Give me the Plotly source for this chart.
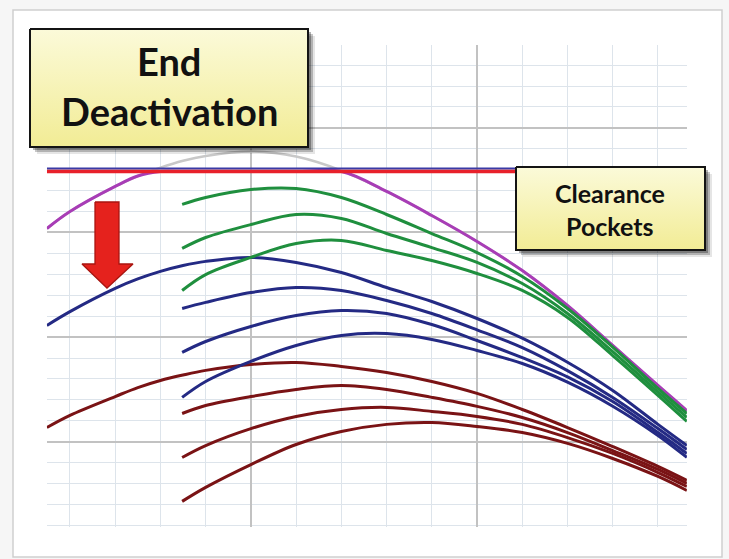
import numpy as np
import plotly.graph_objects as go

# ---------------- data ----------------
X_FULL = [0.49, 1, 2, 2.5, 3, 3.5, 4, 5, 6, 7, 8, 9, 10, 11, 12, 13, 14, 14.64]
X_PART = [3.48, 4, 5, 6, 7, 8, 9, 10, 11, 12, 13, 14, 14.64]

UPPER_ENVELOPE = [14.19, 15.00, 16.20, 16.70, 17.10, 17.43, 17.66, 17.87, 17.63,
                  16.96, 15.96, 14.81, 13.57, 12.18, 10.51, 8.60, 6.69, 5.49]

GREEN_1 = [15.34, 15.67, 16.05, 16.10, 15.67, 14.86, 13.95, 13.04, 11.90, 10.37, 8.52, 6.55, 5.35]
GREEN_2 = [13.24, 13.76, 14.38, 14.86, 14.67, 13.95, 13.28, 12.57, 11.56, 10.13, 8.31, 6.38, 5.16]
GREEN_3 = [11.23, 11.99, 12.81, 13.47, 13.62, 13.14, 12.66, 12.04, 11.23, 9.94, 8.12, 6.22, 4.97]

NAVY_1 = [9.56, 10.22, 11.33, 11.78, 12.14, 12.42, 12.62, 12.81, 12.57,
          12.09, 11.37, 10.70, 9.89, 8.95, 7.80, 6.45, 4.83, 3.82]
NAVY_2 = [10.37, 10.66, 11.13, 11.37, 11.23, 10.75, 10.13, 9.35, 8.50, 7.40, 6.12, 4.63, 3.63]
NAVY_3 = [8.27, 8.79, 9.51, 10.03, 10.27, 10.13, 9.60, 8.84, 8.02, 7.10, 5.92, 4.44, 3.44]
NAVY_4 = [6.12, 6.88, 7.84, 8.60, 9.08, 9.17, 8.89, 8.36, 7.74, 6.85, 5.70, 4.30, 3.25]

MAROON_1 = [4.68, 5.26, 6.16, 6.59, 6.93, 7.19, 7.41, 7.69, 7.79,
            7.60, 7.31, 6.88, 6.31, 5.54, 4.68, 3.77, 2.82, 2.15]
MAROON_2 = [5.35, 5.73, 6.16, 6.50, 6.69, 6.50, 6.12, 5.69, 5.16, 4.44, 3.58, 2.68, 2.01]
MAROON_3 = [3.25, 3.82, 4.63, 5.21, 5.54, 5.64, 5.45, 5.21, 4.83, 4.20, 3.44, 2.53, 1.86]
MAROON_4 = [1.15, 1.82, 2.91, 3.87, 4.49, 4.83, 4.92, 4.73, 4.44, 3.92, 3.20, 2.34, 1.67]

CLEARANCE_X = [0.49, 14.64]
CLEARANCE_RED = 16.91
CLEARANCE_BLUE = 17.06

LABEL_MAIN = ["End", "Deactivation"]
LABEL_SIDE = ["Clearance", "Pockets"]

# ---------------- figure ----------------
W, H = 729, 559
fig = go.Figure()

def curve(x, y, color, width=3.0):
    fig.add_trace(go.Scatter(
        x=x, y=y, mode="lines", hoverinfo="skip", showlegend=False,
        line=dict(color=color, width=width, shape="spline", smoothing=1.0)))

GRAY = "#c8c8c8"
MAGENTA = "#a83db6"
GREEN = "#1f8f3e"
NAVY = "#242a84"
MAROON = "#7a1315"

# upper envelope: gray above clearance, magenta below
curve(X_FULL, UPPER_ENVELOPE, GRAY, 2.5)
curve(X_FULL, np.minimum(np.array(UPPER_ENVELOPE), CLEARANCE_RED), MAGENTA, 3.0)

for ys in (MAROON_2, MAROON_3, MAROON_4):
    curve(X_PART, ys, MAROON)
curve(X_FULL, MAROON_1, MAROON)
for ys in (NAVY_2, NAVY_3, NAVY_4):
    curve(X_PART, ys, NAVY)
curve(X_FULL, NAVY_1, NAVY)
for ys in (GREEN_1, GREEN_2, GREEN_3):
    curve(X_PART, ys, GREEN)

# clearance lines
fig.add_trace(go.Scatter(x=CLEARANCE_X, y=[CLEARANCE_BLUE] * 2, mode="lines",
                         line=dict(color="#3a3aa6", width=2), hoverinfo="skip", showlegend=False))
fig.add_trace(go.Scatter(x=CLEARANCE_X, y=[CLEARANCE_RED] * 2, mode="lines",
                         line=dict(color="#e8202a", width=3.5), hoverinfo="skip", showlegend=False))

# ---------------- decorations on a full-page pixel subplot ----------------
def poly(xs, ys, **kw):
    fig.add_trace(go.Scatter(x=xs, y=ys, xaxis="x2", yaxis="y2", mode="lines",
                             fill="toself", hoverinfo="skip", showlegend=False, **kw))

def callout(x0, y0, x1, y1):
    for off, a in ((7, 0.10), (5, 0.22), (3, 0.30)):
        poly([x0 + off, x1 + off, x1 + off, x0 + off, x0 + off],
             [y0 + off, y0 + off, y1 + off, y1 + off, y0 + off],
             fillcolor=f"rgba(0,0,0,{a})", line=dict(width=0))
    poly([x0, x1, x1, x0, x0], [y0, y0, y1, y1, y0],
         fillgradient=dict(type="vertical", start=y0, stop=y1,
                           colorscale=[[0, "#fbfad9"], [1, "#f2ec95"]]),
         line=dict(color="#141414", width=2))

callout(30, 29, 308, 147)
callout(516, 167, 705, 250)

# red arrow
poly([95, 119, 119, 133, 107, 82, 95, 95],
     [202, 202, 264, 264, 288, 264, 264, 202],
     fillcolor="#e5221d", line=dict(color="#a91510", width=1.3))

FONT = "Lato, 'Open Sans', sans-serif"
anns = []
for txt, yy in zip(LABEL_MAIN, (61, 111)):
    anns.append(dict(x=169, y=yy, xref="x2", yref="y2", text=txt, showarrow=False,
                     font=dict(family=FONT, size=38, color="#111111", weight="bold")))
for txt, yy in zip(LABEL_SIDE, (193, 226)):
    anns.append(dict(x=610, y=yy, xref="x2", yref="y2", text=txt, showarrow=False,
                     font=dict(family=FONT, size=25, color="#111111", weight="bold")))

fig.update_layout(
    width=W, height=H,
    margin=dict(l=0, r=0, t=0, b=0),
    paper_bgcolor="#f6f6f6",
    plot_bgcolor="rgba(0,0,0,0)",
    showlegend=False,
    annotations=anns,
    shapes=[dict(type="rect", xref="paper", yref="paper", layer="below",
                 x0=13 / W, x1=722 / W, y0=(H - 557) / H, y1=(H - 10) / H,
                 fillcolor="white", line=dict(color="#cfcfcf", width=1.5))],
    xaxis=dict(domain=[46.9 / W, 686.9 / W], range=[0.49, 14.64],
               showticklabels=False, ticks="", zeroline=False, showline=False,
               showgrid=True, tick0=0, dtick=5, gridcolor="#c2c2c2", gridwidth=1.6,
               minor=dict(tick0=0, dtick=1, showgrid=True, gridcolor="#dde4eb", gridwidth=1.3),
               fixedrange=True),
    yaxis=dict(domain=[(H - 526.5) / H, (H - 45.2) / H], range=[-0.05, 22.95],
               showticklabels=False, ticks="", zeroline=False, showline=False,
               showgrid=True, tick0=4, dtick=5, gridcolor="#c2c2c2", gridwidth=1.6,
               minor=dict(tick0=0, dtick=1, showgrid=True, gridcolor="#dde4eb", gridwidth=1.3),
               fixedrange=True),
    xaxis2=dict(domain=[0, 1], range=[0, W], visible=False, anchor="y2", fixedrange=True),
    yaxis2=dict(domain=[0, 1], range=[H, 0], visible=False, anchor="x2", fixedrange=True),
)

fig.write_html("out.html",
               config={"displayModeBar": False},
               post_script="document.body.style.margin='0px';"
                           "document.body.style.overflow='hidden';")
